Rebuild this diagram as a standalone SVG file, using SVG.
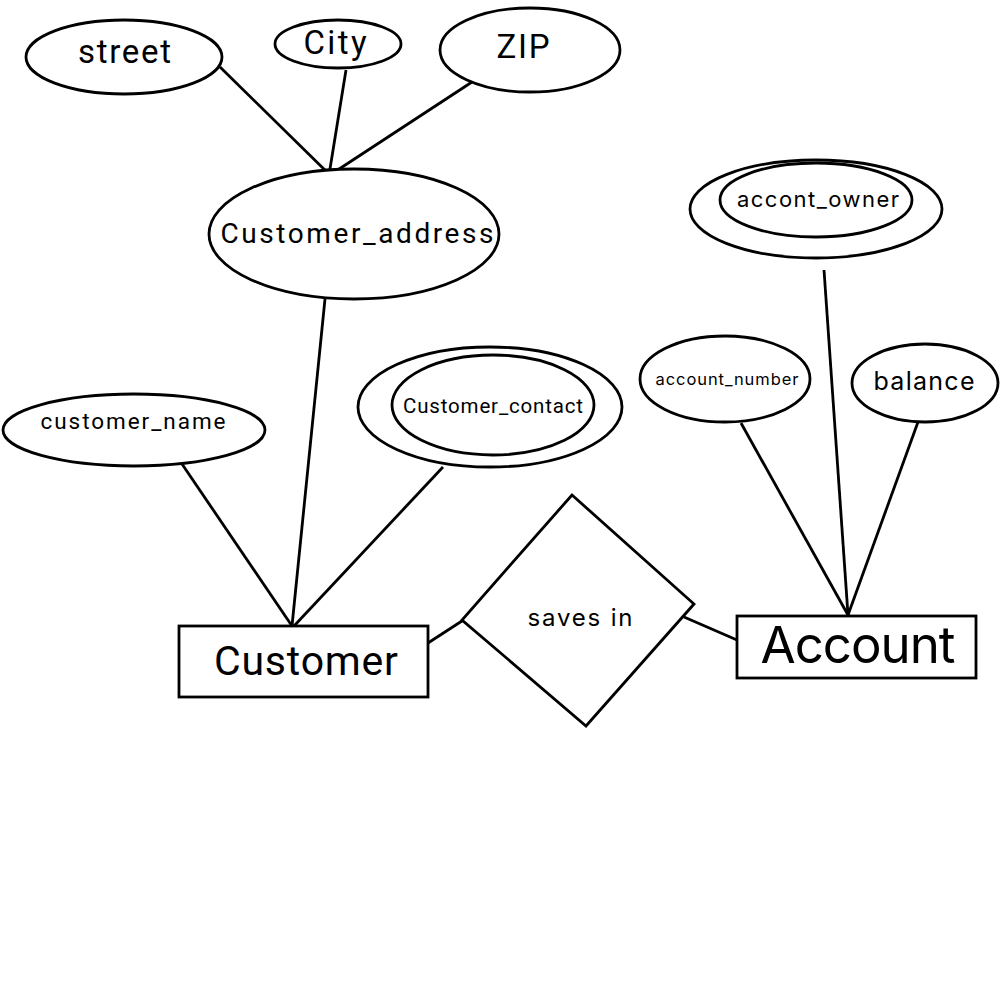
<svg xmlns="http://www.w3.org/2000/svg" width="1000" height="1000" viewBox="0 0 1000 1000">
<style>
.s{fill:none;stroke:#000;stroke-width:2.8}
.n{fill:#fff;stroke:#000;stroke-width:2.8}
.l{font-family:Roboto,"Liberation Sans",sans-serif;fill:#000;text-anchor:middle}
.r{font-family:Inter,"Liberation Sans",sans-serif;fill:#000;text-anchor:middle}
</style>
<rect width="1000" height="1000" fill="#fff"/>
<g id="connectors" class="s">
<line x1="220" y1="67" x2="330" y2="175"/>
<line x1="346" y1="70" x2="329" y2="175"/>
<line x1="472" y1="82" x2="330" y2="175"/>
<line x1="325" y1="299" x2="292" y2="626"/>
<line x1="182" y1="464" x2="292" y2="626"/>
<line x1="443" y1="467" x2="294" y2="626"/>
<line x1="428" y1="643" x2="465" y2="619"/>
<line x1="684" y1="617" x2="737" y2="640"/>
<line x1="824" y1="270" x2="848" y2="615"/>
<line x1="741" y1="423" x2="848" y2="615"/>
<line x1="918" y1="422" x2="848" y2="615"/>
</g>
<g id="street"><ellipse class="n" cx="124" cy="57" rx="98" ry="37"/><text class="l" x="124.5" y="63" font-size="33" textLength="93" lengthAdjust="spacing">street</text></g>
<g id="city"><ellipse class="n" cx="338" cy="44" rx="63" ry="24"/><text class="l" x="335" y="54" font-size="33" textLength="63" lengthAdjust="spacing">City</text></g>
<g id="zip"><ellipse class="n" cx="530" cy="50" rx="90" ry="42"/><text class="l" x="523" y="58" font-size="33" textLength="53" lengthAdjust="spacing">ZIP</text></g>
<g id="customer_address"><ellipse class="n" cx="354" cy="234" rx="145" ry="65"/><text class="l" x="357" y="243" font-size="28" textLength="273" lengthAdjust="spacing">Customer_address</text></g>
<g id="customer_name"><ellipse class="n" cx="134" cy="430" rx="131" ry="36"/><text class="l" x="133" y="429" font-size="22.5" textLength="185" lengthAdjust="spacing">customer_name</text></g>
<g id="customer_contact"><ellipse class="n" cx="490" cy="407" rx="132" ry="60"/><ellipse class="n" cx="493" cy="405" rx="101" ry="50"/><text class="l" x="493" y="413" font-size="20.5" textLength="180" lengthAdjust="spacing">Customer_contact</text></g>
<g id="customer"><rect class="n" x="179" y="626" width="249" height="71"/><text class="l" x="306" y="675" font-size="41" textLength="184" lengthAdjust="spacing">Customer</text></g>
<g id="saves_in"><polygon class="n" points="572,495 694,604 586,726 462,620"/><text class="r" x="580" y="626" font-size="24" textLength="105" lengthAdjust="spacing">saves in</text></g>
<g id="account"><rect class="n" x="737" y="616" width="239" height="62"/><text class="r" x="858" y="663" font-size="51" textLength="195" lengthAdjust="spacing">Account</text></g>
<g id="accont_owner"><ellipse class="n" cx="816" cy="209" rx="126" ry="49"/><ellipse class="n" cx="816" cy="200" rx="96" ry="37"/><text class="r" x="818" y="207" font-size="22" textLength="162" lengthAdjust="spacing">accont_owner</text></g>
<g id="account_number"><ellipse class="n" cx="725" cy="379" rx="85" ry="43"/><text class="r" x="727" y="385" font-size="16.5" textLength="143" lengthAdjust="spacing">account_number</text></g>
<g id="balance"><ellipse class="n" cx="925" cy="383" rx="73" ry="39"/><text class="r" x="924" y="390" font-size="25" textLength="101" lengthAdjust="spacing">balance</text></g>
</svg>
